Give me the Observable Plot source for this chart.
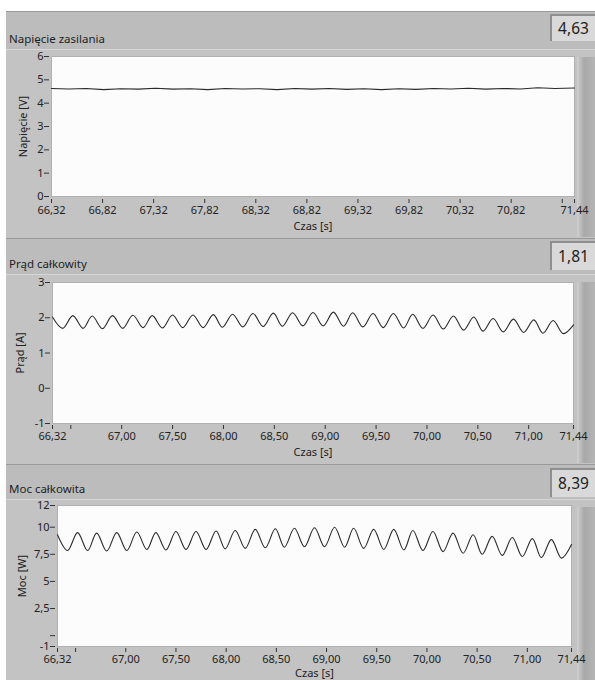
<!DOCTYPE html>
<html>
<head>
<meta charset="utf-8">
<script src="https://cdn.jsdelivr.net/npm/d3@7"></script>
<script src="https://cdn.jsdelivr.net/npm/@observablehq/plot@0.6"></script>
<style>
  html, body { margin: 0; padding: 0; }
  body { width: 595px; height: 680px; position: relative; overflow: hidden; background: #ffffff; font-family: "Noto Sans", sans-serif; }
  .panel { position: absolute; left: 6px; width: 589px; background: #bcbcbc; box-sizing: border-box; }
  .graph { position: absolute; left: 0; right: 0; background: #c3c3c3; border-top: 1px solid #d6d6d6; }
  .title { position: absolute; left: 3px; font-size: 11.5px; color: #1e1e1e; white-space: nowrap; }
  .vbox { position: absolute; right: 0; width: 45px; background: #d9d9d9; border-top: 2px solid #8e8e8e; border-left: 2px solid #8e8e8e; box-sizing: border-box; font-size: 15.5px; color: #222; text-align: center; }
  .rband { position: absolute; right: 0; width: 18px; background: linear-gradient(to right, #d0d0d0, #a9a9a9 40%, #b5b5b5); }
  .chart { position: absolute; left: 0; }
</style>
</head>
<body>
<div id="root"></div>
<script>
// ---------- data ----------
const timeDomain = [66.32, 71.44];

const voltageTime = [66.32, 66.49, 66.66, 66.83, 67.00, 67.17, 67.34, 67.51, 67.68, 67.85, 68.02, 68.19, 68.36, 68.53, 68.70, 68.87, 69.04, 69.21, 69.38, 69.55, 69.72, 69.89, 70.06, 70.23, 70.40, 70.57, 70.74, 70.91, 71.08, 71.25, 71.44];
const voltageValue = [4.63, 4.61, 4.63, 4.58, 4.62, 4.60, 4.64, 4.60, 4.62, 4.58, 4.63, 4.61, 4.62, 4.58, 4.63, 4.60, 4.63, 4.59, 4.62, 4.58, 4.62, 4.59, 4.63, 4.61, 4.64, 4.60, 4.63, 4.61, 4.66, 4.63, 4.65];

const waveTime = [66.32, 66.42, 66.52, 66.62, 66.71, 66.81, 66.91, 67.01, 67.11, 67.21, 67.30, 67.40, 67.50, 67.60, 67.70, 67.80, 67.90, 67.99, 68.09, 68.19, 68.29, 68.39, 68.49, 68.58, 68.68, 68.78, 68.88, 68.98, 69.08, 69.18, 69.27, 69.37, 69.47, 69.57, 69.67, 69.77, 69.86, 69.96, 70.06, 70.16, 70.26, 70.36, 70.46, 70.55, 70.65, 70.75, 70.85, 70.95, 71.05, 71.14, 71.24, 71.34, 71.44];
const currentValue = [2.02, 1.70, 2.06, 1.70, 2.05, 1.69, 2.06, 1.70, 2.07, 1.72, 2.06, 1.71, 2.08, 1.72, 2.08, 1.72, 2.09, 1.73, 2.10, 1.74, 2.12, 1.75, 2.13, 1.76, 2.14, 1.77, 2.15, 1.77, 2.16, 1.76, 2.14, 1.74, 2.12, 1.72, 2.12, 1.71, 2.10, 1.70, 2.08, 1.68, 2.05, 1.65, 2.02, 1.62, 1.98, 1.60, 1.96, 1.58, 1.94, 1.56, 1.92, 1.55, 1.80];
const powerValue = [9.30, 7.85, 9.50, 7.85, 9.45, 7.80, 9.50, 7.85, 9.55, 7.95, 9.50, 7.90, 9.60, 7.95, 9.60, 7.95, 9.65, 8.00, 9.70, 8.05, 9.80, 8.10, 9.85, 8.15, 9.90, 8.20, 9.95, 8.20, 10.00, 8.15, 9.90, 8.05, 9.80, 7.95, 9.80, 7.90, 9.70, 7.85, 9.60, 7.75, 9.45, 7.60, 9.30, 7.50, 9.15, 7.40, 9.05, 7.30, 8.95, 7.20, 8.85, 7.15, 8.40];

const titles = ["Napięcie zasilania", "Prąd całkowity", "Moc całkowita"];
const readouts = ["4,63", "1,81", "8,39"];
const yLabels = ["Napięcie [V]", "Prąd [A]", "Moc [W]"];
const xLabel = "Czas [s]";

const xTicks1 = [66.32, 66.82, 67.32, 67.82, 68.32, 68.82, 69.32, 69.82, 70.32, 70.82, 71.32, 71.44];
const xTicksLabelled1 = [66.32, 66.82, 67.32, 67.82, 68.32, 68.82, 69.32, 69.82, 70.32, 70.82, 71.44];
const xTicks23 = [66.32, 66.5, 67.00, 67.50, 68.00, 68.50, 69.00, 69.50, 70.00, 70.50, 71.00, 71.44];
const xTicksLabelled23 = [66.32, 67.00, 67.50, 68.00, 68.50, 69.00, 69.50, 70.00, 70.50, 71.00, 71.44];

const yDomain1 = [0, 6], yTicks1 = [0, 1, 2, 3, 4, 5, 6], yTicksLabelled1 = [0, 1, 2, 3, 4, 5, 6];
const yDomain2 = [-1, 3], yTicks2 = [-1, 0, 1, 2, 3], yTicksLabelled2 = [-1, 0, 1, 2, 3];
const yDomain3 = [-1, 12], yTicks3 = [-1, 0, 2.5, 5, 7.5, 10, 12], yTicksLabelled3 = [-1, 2.5, 5, 7.5, 10, 12];

// ---------- build ----------
const root = document.getElementById("root");
const fmtX = (lab) => d => lab.includes(d) ? d.toFixed(2).replace(".", ",") : "";
const fmtY = (lab) => d => lab.includes(d) ? String(d).replace(".", ",") : "";

function el(cls, style, text) {
  const e = document.createElement("div");
  e.className = cls;
  Object.assign(e.style, style);
  if (text != null) e.textContent = text;
  return e;
}

const layouts = [
  {panelTop: 11, panelH: 225, titleTop: 19, boxTop: 2, boxH: 27, graphTop: 37,
   svgTop: 48, svgH: 187, ml: 51, mr: 21, mt: 8, mb: 39, ylx: 23, xly: 30, xdy: 3, xpad: 3,
   yDomain: yDomain1, yTicks: yTicks1, yLab: yTicksLabelled1, xTicks: xTicks1, xLab: xTicksLabelled1,
   data: voltageTime.map((t, i) => ({t, v: voltageValue[i]})), curve: "linear"},
  {panelTop: 238, panelH: 224, titleTop: 17, boxTop: 2, boxH: 29, graphTop: 35,
   svgTop: 274, svgH: 186, ml: 52, mr: 22, mt: 8, mb: 37, ylx: 20, xly: 29, xdy: 2, xpad: 3,
   yDomain: yDomain2, yTicks: yTicks2, yLab: yTicksLabelled2, xTicks: xTicks23, xLab: xTicksLabelled23,
   data: waveTime.map((t, i) => ({t, v: currentValue[i]})), curve: "catmull-rom"},
  {panelTop: 464, panelH: 216, titleTop: 16, boxTop: 3, boxH: 29, graphTop: 34,
   svgTop: 497, svgH: 183, ml: 57, mr: 24, mt: 8, mb: 34, ylx: 22, xly: 27, xdy: 2, xpad: 3,
   yDomain: yDomain3, yTicks: yTicks3, yLab: yTicksLabelled3, xTicks: xTicks23, xLab: xTicksLabelled23,
   data: waveTime.map((t, i) => ({t, v: powerValue[i]})), curve: "catmull-rom"}
];

layouts.forEach((L, k) => {
  const p = el("panel", {top: L.panelTop + "px", height: L.panelH + "px", borderTop: "1px solid #9a9a9a"});
  p.appendChild(el("graph", {top: L.graphTop + "px", height: (L.panelH - L.graphTop) + "px"}));
  p.appendChild(el("rband", {top: (L.graphTop + 8) + "px", height: (L.panelH - L.graphTop - 8) + "px"}));
  p.appendChild(el("title", {top: L.titleTop + "px"}, titles[k]));
  p.appendChild(el("vbox", {top: L.boxTop + "px", height: L.boxH + "px", lineHeight: (L.boxH - 2) + "px"}, readouts[k]));
  root.appendChild(p);

  const chart = Plot.plot({
    width: 595,
    height: L.svgH,
    marginLeft: L.ml, marginRight: L.mr, marginTop: L.mt, marginBottom: L.mb,
    style: {background: "transparent", fontFamily: "Noto Sans", fontSize: "11px", color: "#222", overflow: "visible"},
    x: {domain: timeDomain},
    y: {domain: L.yDomain},
    marks: [
      Plot.frame({fill: "#fcfcfc", stroke: "#b0b0b0"}),
      Plot.axisX({ticks: L.xTicks, tickFormat: fmtX(L.xLab), tickSize: 4, tickPadding: L.xpad, dy: L.xdy, label: null, stroke: "#333"}),
      Plot.axisY({ticks: L.yTicks, tickFormat: fmtY(L.yLab), tickSize: 5, tickPadding: 1, dx: -2, label: null, stroke: "#333"}),
      Plot.line(L.data, {x: "t", y: "v", stroke: "#2a2a2a", strokeWidth: 1.1, curve: L.curve}),
      Plot.text([yLabels[k]], {frameAnchor: "left", dx: -(L.ml - L.ylx), rotate: -90, text: d => d, textAnchor: "middle", lineAnchor: "middle", fill: "#222"}),
      Plot.text([xLabel], {frameAnchor: "bottom", dy: L.xly, text: d => d, lineAnchor: "middle", fill: "#222"})
    ]
  });
  chart.classList.add("chart");
  chart.style.top = L.svgTop + "px";
  chart.style.position = "absolute";
  root.appendChild(chart);
});
</script>
</body>
</html>
